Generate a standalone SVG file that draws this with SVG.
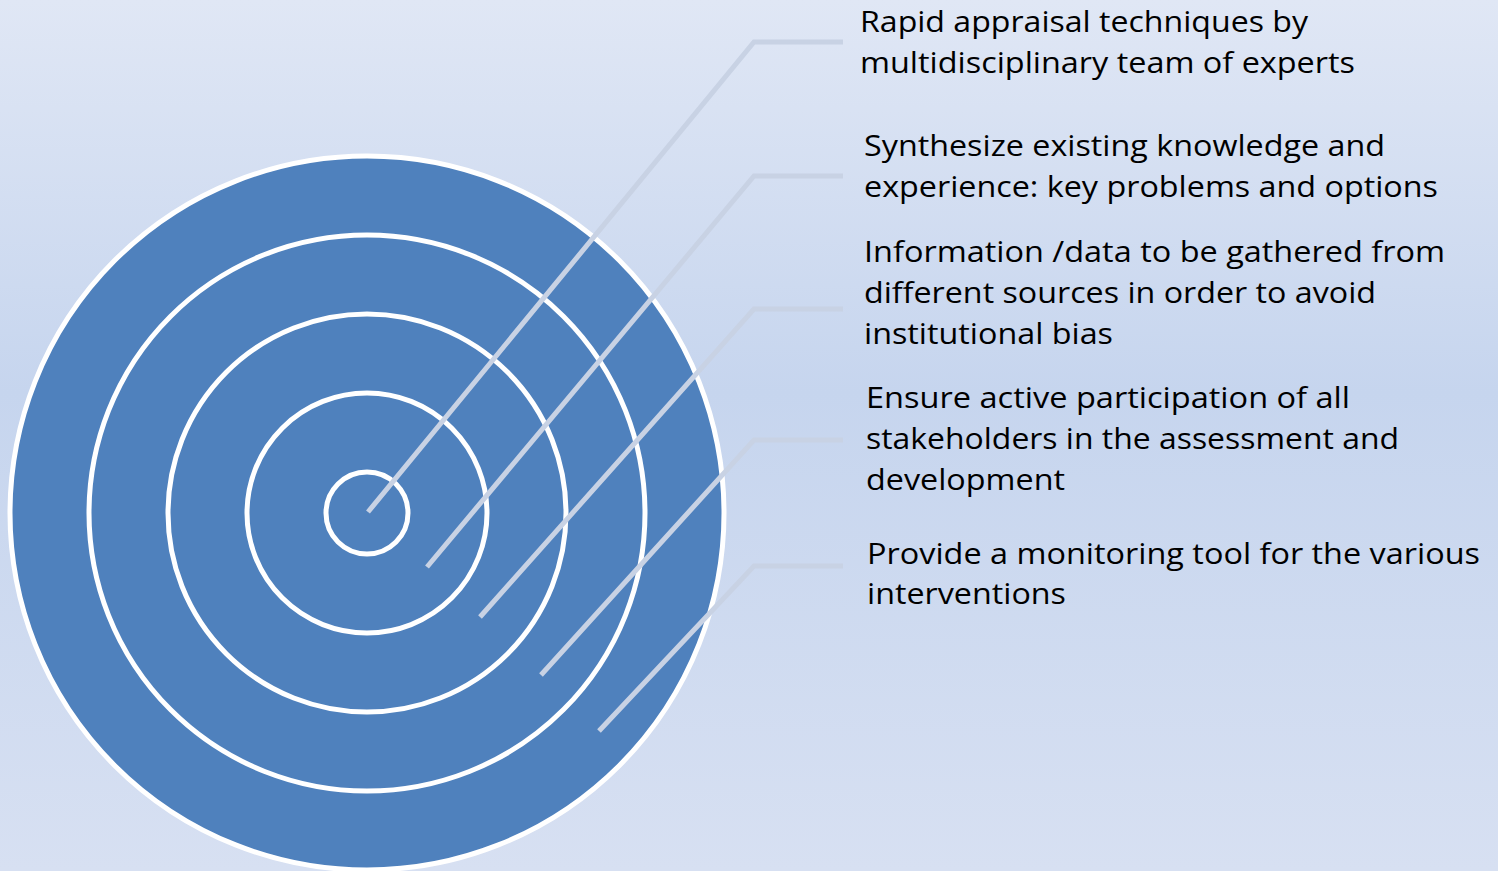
<svg xmlns="http://www.w3.org/2000/svg" width="1498" height="871" viewBox="0 0 1498 871">
<defs>
<linearGradient id="bg" x1="0" y1="0" x2="0" y2="1">
<stop offset="0" stop-color="#E0E7F5"/>
<stop offset="0.45" stop-color="#C6D5EE"/>
<stop offset="1" stop-color="#D7E0F2"/>
</linearGradient>
<style>
.ring{fill:#4F81BD;stroke:#FFFFFF;stroke-width:5}
.conn{fill:none;stroke:#C8D2E4;stroke-width:5;stroke-linejoin:miter}
.lbl{font-family:"Open Sans","Liberation Sans",sans-serif;font-size:29px;fill:#000000}
</style>
</defs>
<rect width="1498" height="871" fill="url(#bg)"/>
<g id="rings">
<circle id="ring5" class="ring" cx="367" cy="513" r="357"/>
<circle id="ring4" class="ring" cx="367" cy="513" r="278"/>
<circle id="ring3" class="ring" cx="367" cy="513" r="199"/>
<circle id="ring2" class="ring" cx="367" cy="513" r="120"/>
<circle id="ring1" class="ring" cx="367" cy="513" r="41"/>
</g>
<g id="connectors">
<polyline class="conn" points="368,512 754,42 843,42"/>
<polyline class="conn" points="427,567 754,176 843,176"/>
<polyline class="conn" points="480,617 754,309 843,309"/>
<polyline class="conn" points="541,675 754,440 843,440"/>
<polyline class="conn" points="599,731 754,566 843,566"/>
</g>
<g id="label1">
<text class="lbl" x="860" y="32" textLength="448" lengthAdjust="spacingAndGlyphs">Rapid appraisal techniques by</text>
<text class="lbl" x="860" y="73" textLength="495" lengthAdjust="spacingAndGlyphs">multidisciplinary team of experts</text>
</g>
<g id="label2">
<text class="lbl" x="864" y="156" textLength="521" lengthAdjust="spacingAndGlyphs">Synthesize existing knowledge and</text>
<text class="lbl" x="864" y="197" textLength="574" lengthAdjust="spacingAndGlyphs">experience: key problems and options</text>
</g>
<g id="label3">
<text class="lbl" x="864" y="262" textLength="581" lengthAdjust="spacingAndGlyphs">Information /data to be gathered from</text>
<text class="lbl" x="864" y="303" textLength="512" lengthAdjust="spacingAndGlyphs">different sources in order to avoid</text>
<text class="lbl" x="864" y="344" textLength="249" lengthAdjust="spacingAndGlyphs">institutional bias</text>
</g>
<g id="label4">
<text class="lbl" x="866" y="408" textLength="484" lengthAdjust="spacingAndGlyphs">Ensure active participation of all</text>
<text class="lbl" x="866" y="449" textLength="533" lengthAdjust="spacingAndGlyphs">stakeholders in the assessment and</text>
<text class="lbl" x="866" y="490" textLength="199" lengthAdjust="spacingAndGlyphs">development</text>
</g>
<g id="label5">
<text class="lbl" x="867" y="564" textLength="613" lengthAdjust="spacingAndGlyphs">Provide a monitoring tool for the various</text>
<text class="lbl" x="867" y="604" textLength="199" lengthAdjust="spacingAndGlyphs">interventions</text>
</g>
</svg>
